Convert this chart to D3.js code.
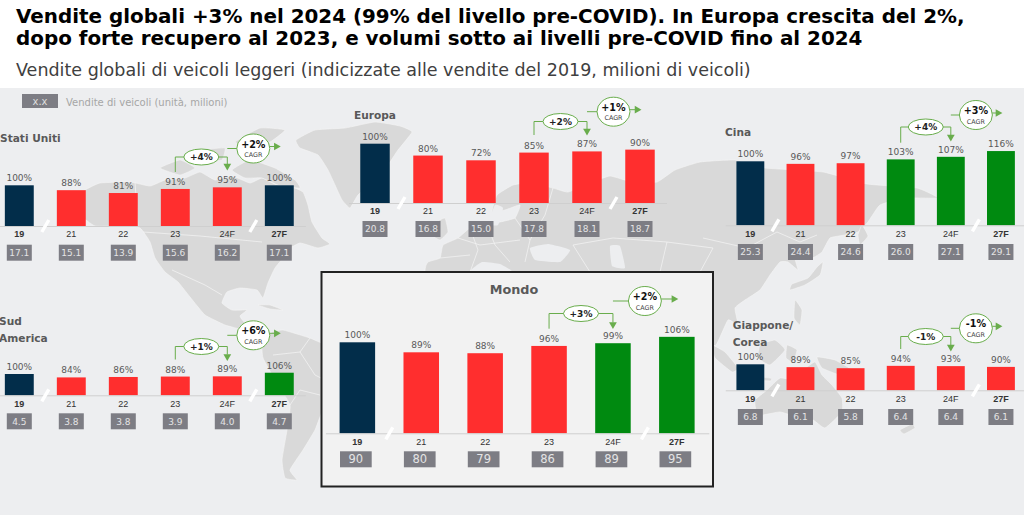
<!DOCTYPE html>
<html>
<head>
<meta charset="utf-8">
<script src="https://cdn.jsdelivr.net/npm/d3@7"></script>
<style>
  html, body {margin: 0; padding: 0; background: #fff; overflow: hidden;}
  svg {display: block; font-family: "DejaVu Sans", Verdana, sans-serif;}
</style>
</head>
<body>
<div class="container"></div>
<script>
// values
var years = ["19", "21", "22", "23", "24F", "27F"];
var boldYears = ["19", "27F"];

var usPct = [100, 88, 81, 91, 95, 100];
var usUnits = ["17.1", "15.1", "13.9", "15.6", "16.2", "17.1"];
var usColors = ["navy", "red", "red", "red", "red", "navy"];

var euPct = [100, 80, 72, 85, 87, 90];
var euUnits = ["20.8", "16.8", "15.0", "17.8", "18.1", "18.7"];
var euColors = ["navy", "red", "red", "red", "red", "red"];

var cnPct = [100, 96, 97, 103, 107, 116];
var cnUnits = ["25.3", "24.4", "24.6", "26.0", "27.1", "29.1"];
var cnColors = ["navy", "red", "red", "green", "green", "green"];

var saPct = [100, 84, 86, 88, 89, 106];
var saUnits = ["4.5", "3.8", "3.8", "3.9", "4.0", "4.7"];
var saColors = ["navy", "red", "red", "red", "red", "green"];

var jpPct = [100, 89, 85, 94, 93, 90];
var jpUnits = ["6.8", "6.1", "5.8", "6.4", "6.4", "6.1"];
var jpColors = ["navy", "red", "red", "red", "red", "red"];

var wdPct = [100, 89, 88, 96, 99, 106];
var wdUnits = ["90", "80", "79", "86", "89", "95"];
var wdColors = ["navy", "red", "red", "red", "green", "green"];

var colors = {navy: "#022d4a", red: "#ff2e2e", green: "#008a10"};
var unitGrey = "#7d7d84";
var arrowGreen = "#69ad4c";
var bgGrey = "#edeef0";

var svg = d3.select(".container").append("svg")
    .attr("width", 1024)
    .attr("height", 517);

// titles
var titleLines = ["Vendite globali +3% nel 2024 (99% del livello pre-COVID). In Europa crescita del 2%,",
                  "dopo forte recupero al 2023, e volumi sotto ai livelli pre-COVID fino al 2024"];
svg.selectAll(".title").data(titleLines).enter().append("text")
    .attr("class", "title")
    .attr("x", 16)
    .attr("y", function(d, i){return 23 + i * 22;})
    .attr("font-size", 19.9)
    .attr("font-weight", "bold")
    .attr("fill", "#000")
    .text(function(d){return d;});

svg.append("text")
    .attr("x", 16)
    .attr("y", 76)
    .attr("font-size", 17.5)
    .attr("fill", "#404040")
    .text("Vendite globali di veicoli leggeri (indicizzate alle vendite del 2019, milioni di veicoli)");

svg.append("rect").attr("x", 0).attr("y", 88).attr("width", 1024).attr("height", 427).attr("fill", bgGrey);

// world map backdrop, traced by hand
var land = [
  // north + central america
  [[72,200],[85,190],[100,183],[130,182],[150,186],[165,180],[185,178],[200,172],[215,180],[232,176],[250,183],[262,178],[275,184],[290,186],[303,192],[308,205],[312,222],[322,238],[330,244],[318,248],[300,243],[287,250],[283,258],[275,268],[268,283],[263,298],[257,290],[240,288],[227,292],[222,303],[232,310],[247,310],[240,316],[245,323],[258,330],[252,334],[243,330],[225,325],[205,315],[190,297],[178,282],[165,272],[155,258],[150,242],[140,228],[120,226],[95,226],[80,215]],
  [[258,305],[270,305],[283,310],[270,309]],
  // south america
  [[262,342],[272,332],[283,330],[297,334],[310,338],[325,345],[340,360],[345,385],[325,405],[315,430],[303,450],[290,470],[297,480],[285,478],[282,460],[287,430],[290,405],[275,380],[263,358]],
  // greenland
  [[296,140],[315,130],[345,128],[375,122],[400,126],[412,132],[398,150],[388,165],[375,180],[358,195],[350,208],[342,200],[335,185],[328,170],[318,155],[300,148]],
  // arctic islands
  [[232,170],[250,160],[275,168],[295,180],[300,188],[280,186],[262,178],[245,178]],
  [[235,142],[260,128],[285,130],[270,142],[250,146]],
  [[160,168],[180,160],[195,168],[180,175]],
  [[205,150],[225,148],[222,160],[208,160]],
  // eurasia
  [[425,272],[428,262],[440,258],[443,245],[458,238],[470,228],[487,225],[500,222],[515,218],[520,205],[505,210],[492,212],[497,195],[513,185],[530,183],[553,188],[568,192],[590,183],[610,176],[632,182],[657,182],[675,170],[700,162],[735,160],[765,168],[823,172],[867,184],[917,188],[938,198],[905,198],[880,205],[868,222],[858,232],[845,235],[830,238],[822,252],[812,258],[803,250],[795,258],[798,270],[788,262],[780,262],[770,275],[760,290],[745,300],[735,308],[738,325],[728,320],[716,345],[700,345],[430,345]],
  [[437,222],[445,218],[448,232],[440,240],[432,235]],
  [[425,226],[431,228],[429,236],[423,234]],
  // japan, sakhalin
  [[817,267],[823,262],[820,275],[805,285],[790,290],[792,284],[808,278]],
  [[862,225],[868,236],[860,245],[858,235]],
  // indonesia + philippines
  [[712,345],[725,352],[738,368],[732,372],[715,358]],
  [[760,345],[775,340],[785,350],[770,365],[758,358]],
  [[795,300],[802,310],[800,325],[794,318]],
  [[738,375],[770,378],[770,381],[740,379]],
  [[787,345],[797,350],[793,362],[786,358]],
  [[817,357],[835,360],[857,373],[840,375],[822,368]],
  // australia, new zealand
  [[755,400],[767,390],[780,378],[795,380],[803,370],[815,362],[822,375],[832,385],[842,398],[842,412],[825,428],[813,420],[797,417],[780,412],[762,415],[756,410]],
  [[900,430],[912,424],[915,428],[904,434]]
];

// seas cut back out of the eurasia shape
var seas = [
  [[530,248],[548,244],[570,250],[560,262],[535,260]],
  [[610,246],[620,246],[625,268],[612,266]],
  [[470,272],[482,262],[500,264],[512,272]],
  [[495,205],[503,208],[498,225],[488,224]]
];

// country borders
var borders = [
  [[143,232],[200,236],[262,242]],
  [[135,182],[138,226]],
  [[172,270],[205,285],[222,295]],
  [[273,355],[300,352],[310,338]],
  [[300,352],[315,375],[335,385]],
  [[290,405],[300,390],[320,395]],
  [[703,238],[747,248],[777,232],[800,242],[817,235]],
  [[573,245],[613,238],[667,242],[713,248]],
  [[470,228],[478,250],[470,272]],
  [[487,225],[495,245],[510,262]],
  [[515,218],[530,240],[525,262]],
  [[458,238],[480,245],[520,240]],
  [[440,258],[470,255]],
  [[553,188],[545,215],[530,240]],
  [[573,245],[590,272]],
  [[667,242],[660,272]],
  [[713,248],[700,272]]
];

var closedLine = d3.line().curve(d3.curveCardinalClosed.tension(0.6));
var openLine = d3.line().curve(d3.curveLinear);
var map = svg.append("g").attr("class", "map");
map.selectAll(".land").data(land).enter().append("path")
    .attr("class", "land")
    .attr("d", function(d){return closedLine(d);})
    .attr("fill", "#d9d9d9")
    .attr("stroke", "#f5f5f5")
    .attr("stroke-width", 0.6);
map.selectAll(".sea").data(seas).enter().append("path")
    .attr("class", "sea")
    .attr("d", function(d){return closedLine(d);})
    .attr("fill", bgGrey);
map.selectAll(".border").data(borders).enter().append("path")
    .attr("class", "border")
    .attr("d", function(d){return openLine(d);})
    .attr("fill", "none")
    .attr("stroke", "#f5f5f5")
    .attr("stroke-width", 0.7);

// legend
svg.append("rect").attr("x", 22).attr("y", 94).attr("width", 36).attr("height", 14).attr("fill", unitGrey);
svg.append("text").attr("x", 40).attr("y", 105).attr("text-anchor", "middle")
    .attr("font-size", 10).attr("fill", "#ddd").text("x.x");
svg.append("text").attr("x", 66).attr("y", 106).attr("font-size", 10).attr("fill", "#a6a6a6")
    .text("Vendite di veicoli (unità, milioni)");

// box behind the world panel
svg.append("rect")
    .attr("x", 321.5).attr("y", 272).attr("width", 391.5).attr("height", 214.5)
    .attr("fill", "#f2f2f2")
    .attr("stroke", "#222")
    .attr("stroke-width", 2);

var panels = [
  {names: ["Stati Uniti"], nameX: 0, nameY: 142, pct: usPct, units: usUnits, barColors: usColors,
   left: -6.7, right: 305.3, base: 226, top: 185.3, boxDy: 18.7, flag: "+4%", cagr: "+2%", elbowStart: 172, elbowY: 157, elbowEnd: 168, cagrY: 148.5},
  {names: ["Europa"], nameX: 354, nameY: 119, pct: euPct, units: euUnits, barColors: euColors,
   left: 348.5, right: 666.5, base: 203, top: 143.7, boxDy: 18, flag: "+2%", cagr: "+1%", elbowStart: 135, elbowY: 121.5, elbowEnd: 133, cagrY: 111.7},
  {names: ["Cina"], nameX: 725, nameY: 136, pct: cnPct, units: cnUnits, barColors: cnColors,
   left: 725.3, right: 1026, base: 225.3, top: 161.3, boxDy: 18.7, flag: "+4%", cagr: "+3%", elbowStart: 142.7, elbowY: 127, elbowEnd: 139, cagrY: 115},
  {names: ["Sud", "America"], nameX: -1, nameY: 325, pct: saPct, units: saUnits, barColors: saColors,
   left: -6.7, right: 305.3, base: 395.3, top: 374, boxDy: 18, flag: "+1%", cagr: "+6%", elbowStart: 359.5, elbowY: 346.5, elbowEnd: 358.5, cagrY: 335.3},
  {names: ["Giappone/", "Corea"], nameX: 732.7, nameY: 329, pct: jpPct, units: jpUnits, barColors: jpColors,
   left: 725.3, right: 1026, base: 390.3, top: 364.3, boxDy: 18.7, flag: "-1%", cagr: "-1%", elbowStart: 349, elbowY: 336.5, elbowEnd: 349, cagrY: 328.3},
  {names: ["Mondo"], nameX: 514, nameY: 294, nameAnchor: "middle", nameSize: 12.8, pct: wdPct, units: wdUnits, barColors: wdColors,
   left: 325.4, right: 708.8, base: 433.3, top: 342.3, boxDy: 18, boxWidth: 31.7, boxShift: -1.5, unitSize: 11.5,
   flag: "+3%", cagr: "+2%", elbowStart: 328.7, elbowY: 313.5, elbowEnd: 326.5, cagrY: 301}
];

var arrowHead = d3.symbol().type(d3.symbolTriangle).size(26);

var drawPanel = function(p){
  var g = svg.append("g").attr("class", "panel");

  var x = d3.scaleBand().domain(years).range([p.left, p.right]).paddingInner(0.444).paddingOuter(0.222);
  var y = d3.scaleLinear().domain([0, 100]).range([p.base, p.top]);
  var cx = function(year){return x(year) + x.bandwidth() / 2;};
  var step = x.step();

  // name
  g.selectAll(".name").data(p.names).enter().append("text")
      .attr("class", "name")
      .attr("x", p.nameX)
      .attr("y", function(d, i){return p.nameY + i * 17;})
      .attr("text-anchor", p.nameAnchor || "start")
      .attr("font-size", p.nameSize || 10.6)
      .attr("font-weight", "bold")
      .attr("fill", "#595959")
      .text(function(d){return d;});

  // bars
  g.selectAll(".bar").data(p.pct).enter().append("rect")
      .attr("class", "bar")
      .attr("x", function(d, i){return x(years[i]);})
      .attr("y", function(d){return y(d);})
      .attr("width", x.bandwidth())
      .attr("height", function(d){return p.base - y(d);})
      .attr("fill", function(d, i){return colors[p.barColors[i]];});

  // percent labels
  g.selectAll(".pct").data(p.pct).enter().append("text")
      .attr("class", "pct")
      .attr("x", function(d, i){return cx(years[i]);})
      .attr("y", function(d){return y(d) - 4;})
      .attr("text-anchor", "middle")
      .attr("font-size", 9)
      .attr("fill", "#595959")
      .text(function(d){return d + "%";});

  // axis
  var axis = g.append("g")
      .attr("transform", "translate(0," + p.base + ")")
      .call(d3.axisBottom(x).tickSize(0).tickPadding(5));
  axis.select(".domain").attr("stroke", "#cfcfcf");
  axis.selectAll("text")
      .attr("font-family", "inherit")
      .attr("font-size", 9)
      .attr("fill", "#333")
      .attr("font-weight", function(d){return boldYears.indexOf(d) >= 0 ? "bold" : "normal";});

  // white axis breaks
  var breaks = [cx("19") + step / 2, cx("24F") + step / 2];
  g.selectAll(".break").data(breaks).enter().append("line")
      .attr("class", "break")
      .attr("x1", function(d){return d - 3.5;})
      .attr("x2", function(d){return d + 3.5;})
      .attr("y1", p.base + 6)
      .attr("y2", p.base - 6)
      .attr("stroke", "#fff")
      .attr("stroke-width", 3.4);

  // unit boxes
  var boxW = p.boxWidth || 25;
  var shift = p.boxShift || 0;
  g.selectAll(".unitBox").data(p.units).enter().append("rect")
      .attr("class", "unitBox")
      .attr("x", function(d, i){return cx(years[i]) + shift - boxW / 2;})
      .attr("y", p.base + p.boxDy)
      .attr("width", boxW)
      .attr("height", 16)
      .attr("fill", unitGrey);
  g.selectAll(".unit").data(p.units).enter().append("text")
      .attr("class", "unit")
      .attr("x", function(d, i){return cx(years[i]) + shift;})
      .attr("y", p.base + p.boxDy + 8)
      .attr("dy", "0.36em")
      .attr("text-anchor", "middle")
      .attr("font-size", p.unitSize || 9)
      .attr("fill", "#e4e4e4")
      .text(function(d){return d;});

  // 23 -> 24F growth flag
  var fromX = cx("23"), toX = cx("24F");
  g.append("path")
      .attr("d", "M" + fromX + "," + p.elbowStart + "V" + p.elbowY + "H" + toX + "V" + (p.elbowEnd - 4))
      .attr("fill", "none")
      .attr("stroke", arrowGreen)
      .attr("stroke-width", 1);
  g.append("path")
      .attr("d", arrowHead())
      .attr("transform", "translate(" + toX + "," + (p.elbowEnd - 2) + ") rotate(180)")
      .attr("fill", arrowGreen);
  g.append("ellipse")
      .attr("cx", (fromX + toX) / 2)
      .attr("cy", p.elbowY)
      .attr("rx", 17.5)
      .attr("ry", 8)
      .attr("fill", "#fff")
      .attr("stroke", arrowGreen)
      .attr("stroke-width", 1);
  g.append("text")
      .attr("x", (fromX + toX) / 2)
      .attr("y", p.elbowY)
      .attr("dy", "0.36em")
      .attr("text-anchor", "middle")
      .attr("font-size", 9)
      .attr("font-weight", "bold")
      .attr("fill", "#222")
      .text(p.flag);

  // CAGR bubble
  var endX = cx("27F");
  var midX = (toX + endX) / 2;
  g.append("line")
      .attr("x1", toX).attr("x2", midX)
      .attr("y1", p.cagrY).attr("y2", p.cagrY)
      .attr("stroke", arrowGreen);
  g.append("line")
      .attr("x1", midX).attr("x2", endX - 4)
      .attr("y1", p.cagrY - 2).attr("y2", p.cagrY - 2)
      .attr("stroke", arrowGreen);
  g.append("path")
      .attr("d", arrowHead())
      .attr("transform", "translate(" + (endX - 3) + "," + (p.cagrY - 2) + ") rotate(90)")
      .attr("fill", arrowGreen);
  g.append("ellipse")
      .attr("cx", midX)
      .attr("cy", p.cagrY)
      .attr("rx", 16.5)
      .attr("ry", 14.5)
      .attr("fill", "#fff")
      .attr("stroke", arrowGreen)
      .attr("stroke-width", 1);
  g.append("text")
      .attr("x", midX)
      .attr("y", p.cagrY - 1)
      .attr("text-anchor", "middle")
      .attr("font-size", 9.6)
      .attr("font-weight", "bold")
      .attr("fill", "#111")
      .text(p.cagr);
  g.append("text")
      .attr("x", midX)
      .attr("y", p.cagrY + 8.5)
      .attr("text-anchor", "middle")
      .attr("font-size", 6.4)
      .attr("fill", "#444")
      .text("CAGR");
};

panels.forEach(drawPanel);
</script>
</body>
</html>
